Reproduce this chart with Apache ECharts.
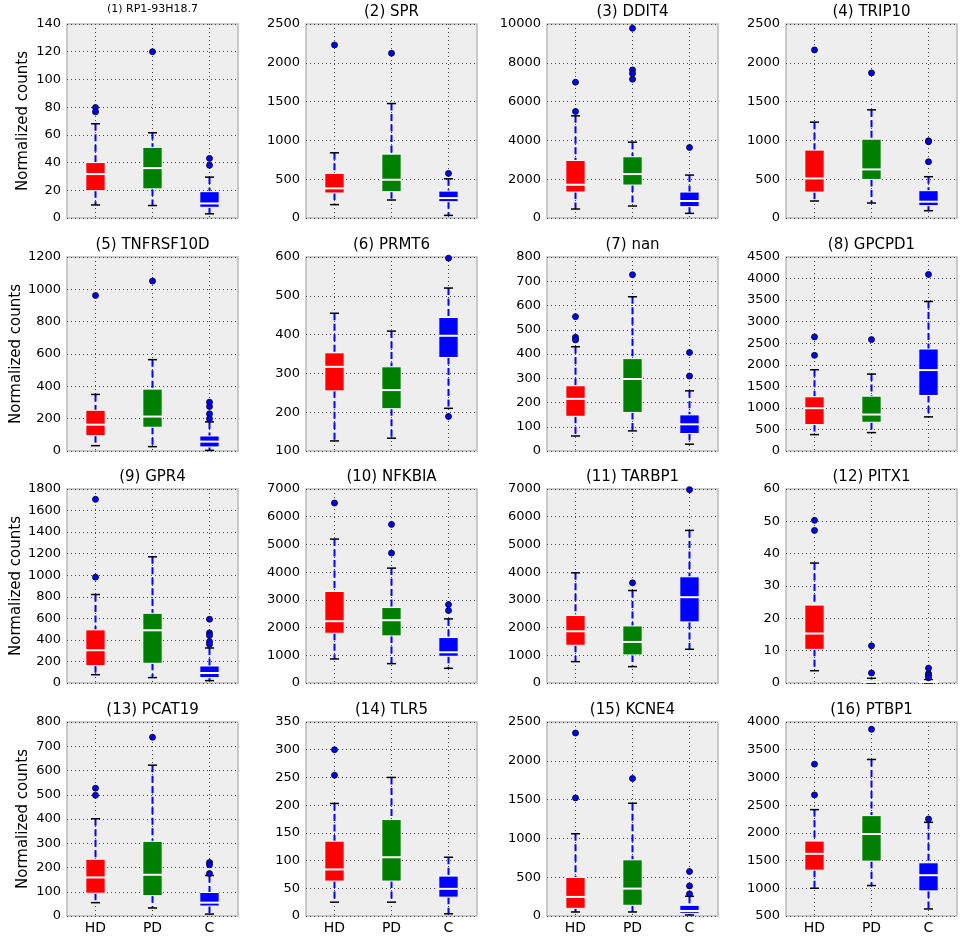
<!DOCTYPE html>
<html><head><meta charset="utf-8">
<script src="https://cdn.jsdelivr.net/npm/echarts@6/dist/echarts.min.js"></script>
<style>html,body{margin:0;padding:0;background:#fff}#c{width:964px;height:937px}</style>
</head><body><div id="c"></div>
<script>
const groups = ['HD', 'PD', 'C'];
const titles = ['(1) RP1-93H18.7', '(2) SPR', '(3) DDIT4', '(4) TRIP10', '(5) TNFRSF10D', '(6) PRMT6', '(7) nan', '(8) GPCPD1',
  '(9) GPR4', '(10) NFKBIA', '(11) TARBP1', '(12) PITX1', '(13) PCAT19', '(14) TLR5', '(15) KCNE4', '(16) PTBP1'];
const yMin = [0, 0, 0, 0, 0, 100, 0, 0, 0, 0, 0, 0, 0, 0, 0, 500];
const yMax = [140, 2500, 10000, 2500, 1200, 600, 800, 4500, 1800, 7000, 7000, 60, 800, 350, 2500, 4000];
const yStep = [20, 500, 2000, 500, 200, 100, 100, 500, 200, 1000, 1000, 10, 100, 50, 500, 500];
// [lower whisker, Q1, median, Q3, upper whisker]
const hdStats = [
  [9.4, 19.7, 31.7, 40, 68], [172, 322, 382, 575, 840], [463, 1338, 1715, 2967, 5266], [219, 334, 510, 875, 1235],
  [33, 95, 163, 252, 350], [126, 255, 317, 353, 455], [62, 143, 215, 269, 430], [380, 613, 993, 1257, 1885],
  [77, 161, 304, 493, 821], [867, 1795, 2229, 3301, 5193], [771, 1361, 1867, 2434, 3976], [3.8, 10.4, 15.3, 24.1, 37.1],
  [55, 94, 159, 234, 401], [25, 63, 84, 135, 203], [52, 99, 246, 496, 1060], [1001, 1327, 1622, 1852, 2419]
];
const pdStats = [
  [9, 21, 36, 51, 61.5], [232, 339, 493, 823, 1475], [617, 1698, 2264, 3156, 3911], [193, 497, 626, 1016, 1394],
  [27, 147, 213, 383, 565], [133, 209, 257, 317, 409], [83, 159, 297, 381, 636], [427, 667, 846, 1272, 1784],
  [50, 183, 489, 647, 1171], [699, 1699, 2265, 2723, 4145], [590, 1012, 1482, 2060, 3337], [0, 0.2, 0.5, 0.9, 1.45],
  [33, 84, 170, 308, 622], [25, 63, 106, 174, 250], [52, 138, 353, 724, 1453], [1049, 1490, 1979, 2311, 3324]
];
const cStats = [
  [3, 7.7, 10.5, 19, 29.5], [34, 210, 257, 347, 506], [240, 583, 875, 1338, 2213], [94, 159, 210, 352, 532],
  [4, 25, 58, 93, 180], [210, 341, 397, 444, 520], [28, 72, 110, 149, 248], [791, 1288, 1877, 2366, 3468],
  [22, 50, 93, 158, 325], [530, 964, 1108, 1639, 2313], [1217, 2205, 3096, 3831, 5506], [0, 0.2, 0.4, 0.6, 1.0],
  [8, 41, 55, 97, 167], [4, 34, 49, 72, 106], [13, 34, 65, 138, 254], [627, 953, 1236, 1460, 2190]
];
const hdOutliers = [
  [79.7, 76.6], [2230], [7000, 5490], [2166], [962], [], [554, 469, 458], [2646, 2219],
  [1704, 982], [6494], [], [50.3, 47.2], [527, 498], [300, 254], [2358, 1522], [3240, 2685]
];
const pdOutliers = [
  [120], [2123], [9777, 7633, 7444, 7153], [1870], [1051], [], [727], [2584],
  [], [5723, 4687], [3614], [11.5, 3.1], [737], [], [1772], [3868]
];
const cOutliers = [
  [43, 38], [575], [3636], [995, 982, 725], [302, 275, 230, 200], [597, 189], [406, 309], [4096],
  [592, 465, 440, 384, 359], [2831, 2614], [6976], [4.6, 2.9, 2.4, 1.6], [221, 211, 175], [], [573, 388, 284], [2250]
];
const groupColors = ['#ff0000', '#008000', '#0000ff'];

const FONT = 'DejaVu Sans';
const colLeft = [67, 306, 547, 786];
const rowTop = [24, 257, 489, 722];
const gw = 171, gh = 194;

function renderBox(params, api) {
  const cat = api.value(0);
  const pLo = api.coord([cat, api.value(1)]);
  const pQ1 = api.coord([cat, api.value(2)]);
  const pMed = api.coord([cat, api.value(3)]);
  const pQ3 = api.coord([cat, api.value(4)]);
  const pHi = api.coord([cat, api.value(5)]);
  const slot = api.size([1, 0])[0];
  const bw = slot * 0.34, cw = slot * 0.16;
  const x = pLo[0];
  const cs = params.coordSys;
  const col = api.visual('color');
  return {
    type: 'group', children: [
      { type: 'line', silent: true, shape: { x1: x, y1: cs.y, x2: x, y2: cs.y + cs.height },
        style: { stroke: '#444', lineWidth: 1, lineDash: [1, 3] } },
      { type: 'line', shape: { x1: x, y1: pHi[1], x2: x, y2: pQ3[1] },
        style: { stroke: '#0000ff', lineWidth: 2, lineDash: [7, 3.5] } },
      { type: 'line', shape: { x1: x, y1: pQ1[1], x2: x, y2: pLo[1] },
        style: { stroke: '#0000ff', lineWidth: 2, lineDash: [7, 3.5] } },
      { type: 'line', shape: { x1: x - cw / 2, y1: pHi[1], x2: x + cw / 2, y2: pHi[1] },
        style: { stroke: '#000', lineWidth: 1.5 } },
      { type: 'line', shape: { x1: x - cw / 2, y1: pLo[1], x2: x + cw / 2, y2: pLo[1] },
        style: { stroke: '#000', lineWidth: 1.5 } },
      { type: 'rect', shape: { x: x - bw / 2, y: pQ3[1], width: bw, height: pQ1[1] - pQ3[1] },
        style: { fill: col, stroke: '#ffffff', lineWidth: 1 } },
      { type: 'line', shape: { x1: x - bw / 2, y1: pMed[1], x2: x + bw / 2, y2: pMed[1] },
        style: { stroke: '#ffffff', lineWidth: 2 } }
    ]
  };
}

const grid = [], xAxis = [], yAxis = [], series = [], graphic = [];
for (let i = 0; i < 16; i++) {
  const r = Math.floor(i / 4), c = i % 4;
  grid.push({ left: colLeft[c], top: rowTop[r], width: gw, height: gh, show: true,
    backgroundColor: '#eeeeee', borderColor: '#bbbbbb', borderWidth: 1.5 });
  xAxis.push({ type: 'category', gridIndex: i, data: groups, boundaryGap: true,
    axisLine: { show: false }, axisTick: { show: false }, splitLine: { show: false },
    axisLabel: { show: r === 3, color: '#000', fontFamily: FONT, fontSize: 14, margin: 5 } });
  yAxis.push({ type: 'value', gridIndex: i, min: yMin[i], max: yMax[i], interval: yStep[i],
    axisLine: { show: false }, axisTick: { show: false },
    axisLabel: { color: '#000', fontFamily: FONT, fontSize: 13, margin: 6, formatter: v => String(v) },
    splitLine: { show: true, lineStyle: { color: '#444', width: 1, type: [1, 3] } },
    name: c === 0 ? 'Normalized counts' : '', nameLocation: 'middle', nameGap: 36,
    nameTextStyle: { color: '#000', fontFamily: FONT, fontSize: 15 } });
  const stats = [hdStats[i], pdStats[i], cStats[i]];
  series.push({ type: 'custom', xAxisIndex: i, yAxisIndex: i, renderItem: renderBox,
    encode: { x: 0, y: [1, 2, 3, 4, 5] },
    data: stats.map((s, g) => ({ value: [g].concat(s), itemStyle: { color: groupColors[g] } })) });
  const outs = [hdOutliers[i], pdOutliers[i], cOutliers[i]];
  const pts = [];
  outs.forEach((arr, g) => arr.forEach(v => pts.push([g, v])));
  series.push({ type: 'scatter', xAxisIndex: i, yAxisIndex: i, data: pts, symbolSize: 6, z: 5,
    itemStyle: { color: '#0000ff', borderColor: '#000', borderWidth: 0.8, opacity: 1 } });
  graphic.push({ type: 'text', x: colLeft[c] + gw / 2, y: rowTop[r] - (i === 0 ? 15 : 12),
    style: { text: titles[i], textAlign: 'center', textVerticalAlign: 'middle', fill: '#000',
      font: (i === 0 ? '11px ' : '15px ') + '"' + FONT + '"' } });
}

const chart = echarts.init(document.getElementById('c'), null, { renderer: 'canvas' });
chart.setOption({ animation: false, backgroundColor: '#fff', grid, xAxis, yAxis, series, graphic });
</script></body></html>
